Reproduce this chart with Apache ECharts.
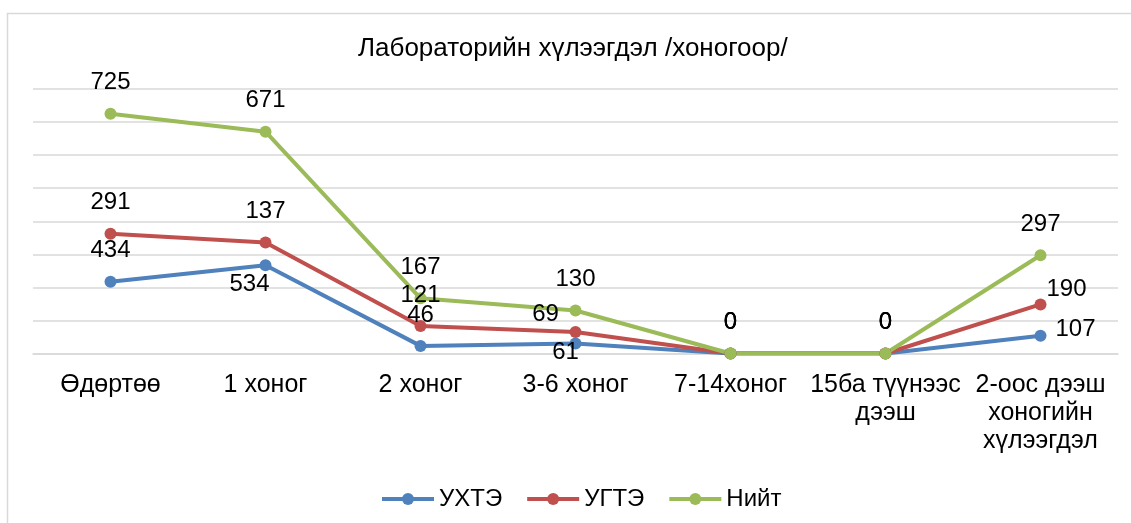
<!DOCTYPE html>
<html>
<head>
<meta charset="utf-8">
<script src="https://cdn.jsdelivr.net/npm/echarts@6/dist/echarts.min.js"></script>
<style>
html,body{margin:0;padding:0;background:#fff;}
#c{width:1131px;height:523px;}
</style>
</head>
<body>
<div id="c"></div>
<script>
const categories = ['Өдөртөө', '1 хоног', '2 хоног', '3-6 хоног', '7-14хоног', '15ба түүнээс\nдээш', '2-оос дээш\nхоногийн\nхүлээгдэл'];
const seriesNames = ['УХТЭ', 'УГТЭ', 'Нийт'];
const uhte = [434, 534, 46, 61, 0, 0, 107];
const ugte = [291, 137, 121, 69, 0, 0, 190];
const niit = [725, 671, 167, 130, 0, 0, 297];
const titleText = 'Лабораторийн хүлээгдэл /хоногоор/';

const colors = ['#4F81BD', '#C0504D', '#9BBB59'];
const FONT = "'Liberation Sans', Arial, sans-serif";

// label placement tweaks (style, not data)
const labelTweaks = [
  {1: [-16, 50], 3: [-10, 40], 6: [35, 25]},
  {3: [-30, 13], 6: [26, 16]},
  {}
];

function build(values, si) {
  return values.map((v, i) => {
    const t = labelTweaks[si][i];
    if (t) return {value: v, label: {offset: t}};
    return v;
  });
}

const allValues = [uhte, ugte, niit];
const series = allValues.map((vals, si) => ({
  name: seriesNames[si],
  type: 'line',
  stack: 'total',
  data: build(vals, si),
  symbol: 'circle',
  symbolSize: 12,
  lineStyle: {width: 4, color: colors[si]},
  itemStyle: {color: colors[si]},
  label: {show: true, position: 'top', distance: 13, fontSize: 24, color: '#000', fontFamily: FONT},
  animation: false
}));

const chart = echarts.init(document.getElementById('c'));
chart.setOption({
  animation: false,
  backgroundColor: '#fff',
  textStyle: {fontFamily: FONT},
  graphic: [{
    type: 'rect', left: 5, top: 11,
    shape: {width: 1140, height: 530},
    style: {fill: 'none', stroke: '#d9d9d9', lineWidth: 1.5},
    silent: true
  }],
  title: {
    text: titleText, left: 353, top: 31,
    textStyle: {fontSize: 26, fontWeight: 'normal', color: '#000', fontFamily: FONT}
  },
  legend: {
    data: seriesNames, bottom: 12, left: 380, padding: 0,
    itemWidth: 52, itemHeight: 15, itemGap: 23,
    lineStyle: {width: 4},
    textStyle: {fontSize: 24, color: '#000', fontFamily: FONT}
  },
  grid: {left: 33, right: 13, top: 89, bottom: 169.5, containLabel: false},
  xAxis: {
    type: 'category', data: categories, boundaryGap: true,
    axisLine: {show: true, lineStyle: {color: '#d9d9d9', width: 1.5}},
    axisTick: {show: false},
    axisLabel: {fontSize: 25, color: '#000', lineHeight: 28, margin: 18, interval: 0, fontFamily: FONT}
  },
  yAxis: {
    type: 'value', min: 0, max: 1600, interval: 200,
    axisLabel: {show: false}, axisLine: {show: false}, axisTick: {show: false},
    splitLine: {lineStyle: {color: '#d9d9d9', width: 1.5}}
  },
  series: series
});
</script>
</body>
</html>
